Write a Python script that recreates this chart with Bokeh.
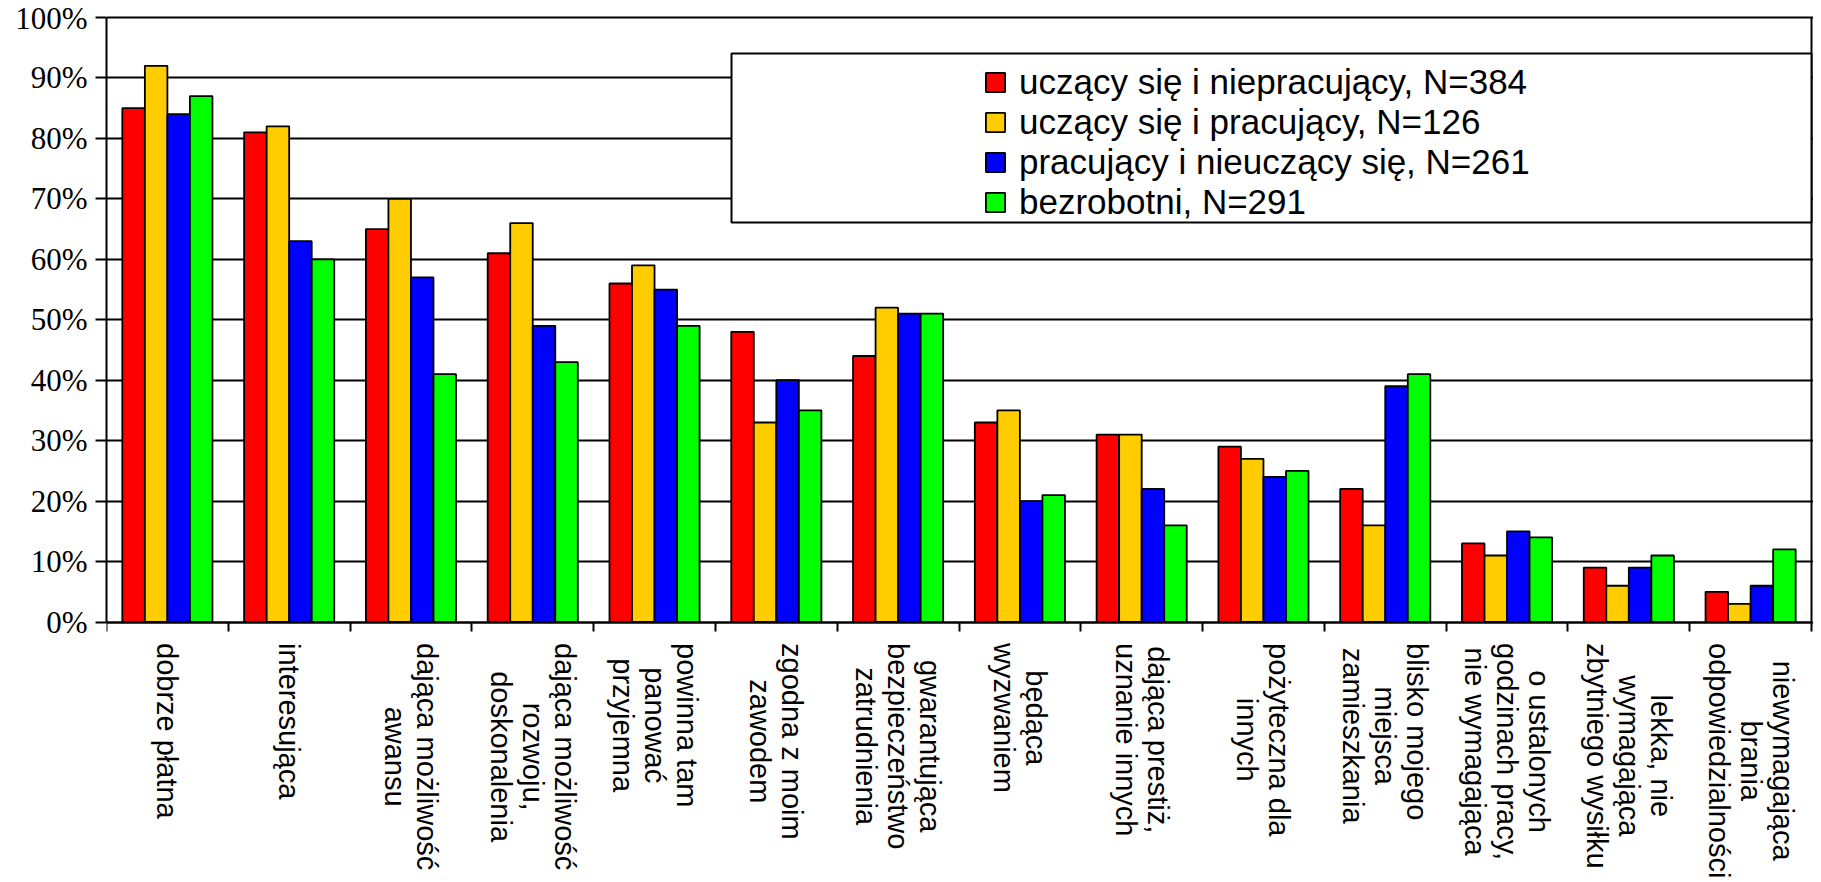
import math
from bokeh.plotting import figure
from bokeh.models import (Range1d, FixedTicker, LinearAxis, Legend, LegendItem,
                          BoxAnnotation, Grid)
from bokeh.core.properties import value
from bokeh.embed import file_html
from bokeh.resources import INLINE

# ---------------- data ----------------
categories = [
    "dobrze płatna",
    "interesująca",
    "dająca możliwość\nawansu",
    "dająca możliwość\nrozwoju,\ndoskonalenia",
    "powinna tam\npanować\nprzyjemna",
    "zgodna z moim\nzawodem",
    "gwarantująca\nbezpieczeństwo\nzatrudnienia",
    "będąca\nwyzwaniem",
    "dająca prestiż,\nuznanie innych",
    "pożyteczna dla\ninnych",
    "blisko  mojego\nmiejsca\nzamieszkania",
    "o ustalonych\ngodzinach pracy,\nnie wymagająca",
    "lekka, nie\nwymagająca\nzbytniego wysiłku",
    "niewymagająca\nbrania\nodpowiedzialności",
]
series_names = [
    "uczący się i niepracujący, N=384",
    "uczący się i pracujący, N=126",
    "pracujący i nieuczący się, N=261",
    "bezrobotni, N=291",
]
uczacy_niepracujacy = [85, 81, 65, 61, 56, 48, 44, 33, 31, 29, 22, 13, 9, 5]
uczacy_pracujacy = [92, 82, 70, 66, 59, 33, 52, 35, 31, 27, 16, 11, 6, 3]
pracujacy_nieuczacy = [84, 63, 57, 49, 55, 40, 51, 20, 22, 24, 39, 15, 9, 6]
bezrobotni = [87, 60, 41, 43, 49, 35, 51, 21, 16, 25, 41, 14, 11, 12]
y_ticks = list(range(0, 101, 10))
y_tick_labels = [f"{t}%" for t in y_ticks]

series = [uczacy_niepracujacy, uczacy_pracujacy, pracujacy_nieuczacy, bezrobotni]
colors = ["#FF0000", "#FFCC00", "#0000FF", "#00FF00"]

# ---------------- layout constants ----------------
W, H = 1813, 880
LEFT, TOP = 106, 15
n = len(categories)
PPX = (1811 - LEFT) / n          # px per category
PPU = 6.045                      # px per percent
x_end = (W - LEFT) / PPX
y_end = 100 + 2 / PPU
y_start = y_end - (H - TOP) / PPU
BW = 0.185
LABEL_Y = -21.0 / PPU

p = figure(width=W, height=H, x_range=Range1d(0, x_end), y_range=Range1d(y_start, y_end),
           output_backend="svg", toolbar_location=None,
           min_border_left=LEFT, min_border_right=0, min_border_top=TOP, min_border_bottom=0,
           x_axis_type=None, y_axis_type=None, outline_line_color=None,
           background_fill_color="white", border_fill_color="white")

# y axis
yaxis = LinearAxis(ticker=FixedTicker(ticks=y_ticks), bounds=(0, 100))
yaxis.major_label_overrides = {t: l for t, l in zip(y_ticks, y_tick_labels)}
yaxis.major_label_text_font = "Liberation Serif"
yaxis.major_label_text_font_size = "31px"
yaxis.major_label_text_color = "black"
yaxis.major_label_standoff = 8
yaxis.axis_line_width = 2
yaxis.axis_line_color = "black"
yaxis.major_tick_line_width = 2
yaxis.major_tick_line_color = "black"
yaxis.major_tick_out = 11
yaxis.major_tick_in = 0
yaxis.minor_tick_out = 0
yaxis.minor_tick_in = 0
p.add_layout(yaxis, "left")

# x axis (ticks at category boundaries)
xaxis = LinearAxis(ticker=FixedTicker(ticks=list(range(n + 1))), bounds=(0, n), fixed_location=0)
xaxis.major_label_overrides = {i: "" for i in range(n + 1)}
xaxis.major_label_text_font_size = "0px"
xaxis.axis_line_width = 2
xaxis.axis_line_color = "black"
xaxis.major_tick_line_width = 2
xaxis.major_tick_line_color = "black"
xaxis.major_tick_out = 9
xaxis.major_tick_in = 0
xaxis.minor_tick_out = 0
xaxis.minor_tick_in = 0
p.add_layout(xaxis, "below")

grid = Grid(dimension=1, ticker=FixedTicker(ticks=y_ticks), bounds=(0, n),
            grid_line_color="black", grid_line_width=2)
p.add_layout(grid)

# bars
renderers = []
for j, vals in enumerate(series):
    xs = [i + 0.5 + (j - 1.5) * BW for i in range(n)]
    r = p.vbar(x=xs, top=vals, bottom=0, width=BW, fill_color=colors[j],
               line_color="black", line_width=1.8)
    renderers.append(r)

# right border of plot area
p.segment(x0=[n], y0=[y_ticks[0]], x1=[n], y1=[y_ticks[-1]], line_color="black", line_width=2)

# category labels
p.text(x=[i + 0.5 for i in range(n)], y=[LABEL_Y] * n, text=categories,
       angle=-math.pi / 2, anchor=value("center_left"), text_align="center",
       text_baseline="middle", text_font=value("Liberation Sans"),
       text_font_size="29px", text_line_height=1.0, text_color="black")

# legend box
box = BoxAnnotation(left=(731 - 106) / PPX, right=n,
                    top=100 - (53 - 17) / PPU, bottom=100 - (222 - 17) / PPU,
                    fill_color="white", fill_alpha=1.0,
                    line_color="black", line_alpha=1.0, line_width=2)
p.add_layout(box)

legend = Legend(items=[LegendItem(label=nm, renderers=[r]) for nm, r in zip(series_names, renderers)],
                location=(877, 658), padding=0, margin=0, spacing=0,
                glyph_width=24, glyph_height=24, label_standoff=12,
                label_text_font="Liberation Sans", label_text_font_size="35px",
                label_text_color="black", border_line_color=None,
                background_fill_alpha=0)
p.add_layout(legend)

open("out.html", "w").write(file_html(p, INLINE))
